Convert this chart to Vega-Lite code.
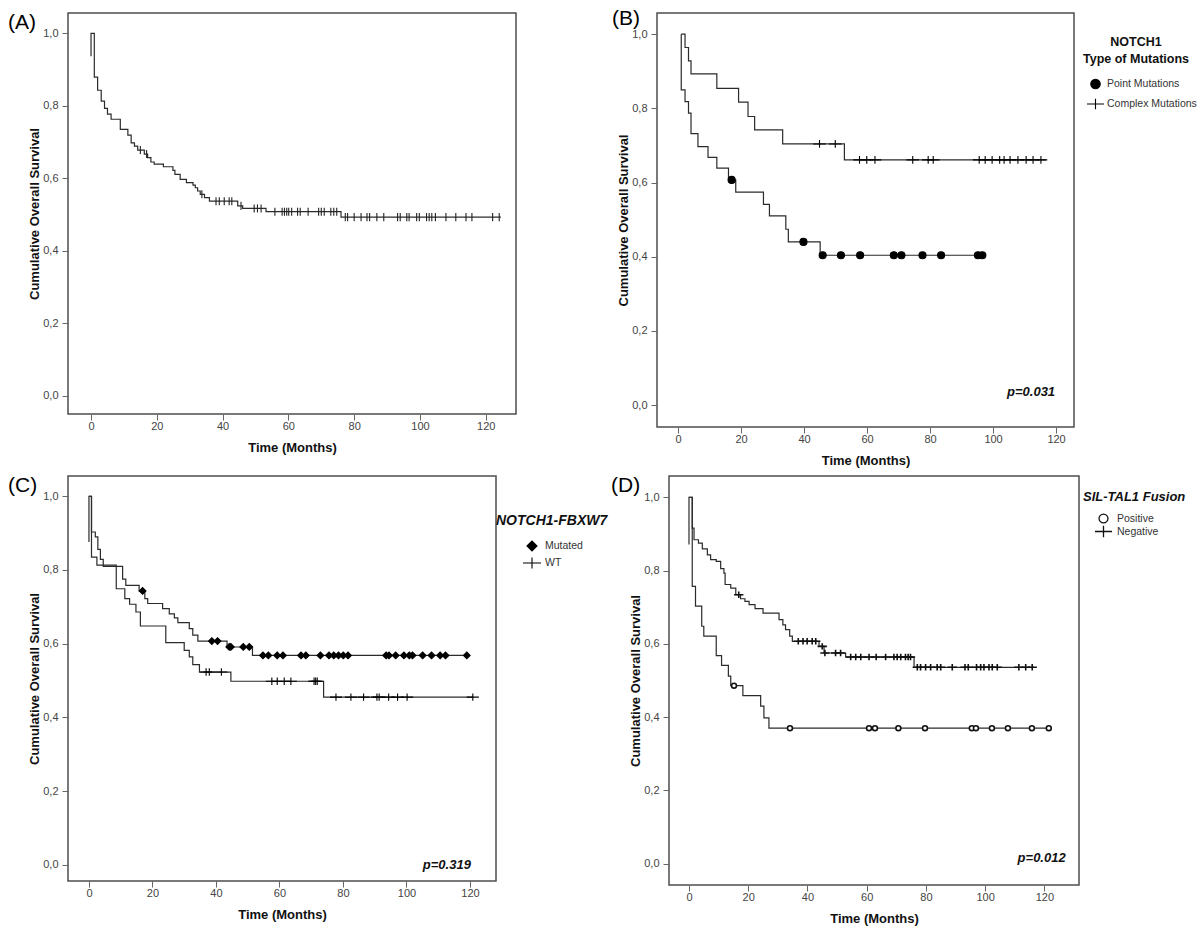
{
  "$schema": "https://vega.github.io/schema/vega-lite/v6.json",
  "padding": {"left": 7, "top": 7, "right": 0, "bottom": 0},
  "config": {
    "font": "Liberation Sans",
    "view": {"stroke": "#4d4d4d", "strokeWidth": 1.5},
    "axis": {"grid": false, "domain": false, "ticks": true, "tickColor": "#666", "tickSize": 6, "tickWidth": 1, "labelFontSize": 11, "labelColor": "#444", "labelFont": "Liberation Sans", "titleFont": "Liberation Sans", "titleFontSize": 13, "titleFontWeight": "bold", "titleColor": "#111"},
    "axisX": {"titlePadding": 10, "labelPadding": 0},
    "axisY": {"titlePadding": 1, "labelPadding": 4},
    "title": {"fontWeight": "normal", "fontSize": 21, "anchor": "start", "frame": "group", "color": "#000", "offset": 0, "font": "Liberation Sans"}
  },
  "resolve": {"scale": {"shape": "independent", "fill": "independent"}, "legend": {"shape": "independent", "fill": "independent"}},
  "datasets": {
    "aL": [{"t":0,"s":0.937},{"t":0,"s":1},{"t":1,"s":0.879},{"t":2,"s":0.843},{"t":3.1,"s":0.813},{"t":4.1,"s":0.793},{"t":5,"s":0.777},{"t":6.1,"s":0.763},{"t":8.9,"s":0.735},{"t":11.2,"s":0.719},{"t":12.2,"s":0.698},{"t":13.2,"s":0.689},{"t":14.2,"s":0.678},{"t":16.2,"s":0.667},{"t":17.2,"s":0.657},{"t":18.2,"s":0.645},{"t":19.2,"s":0.639},{"t":22,"s":0.632},{"t":24.9,"s":0.622},{"t":25.5,"s":0.611},{"t":27.1,"s":0.597},{"t":29,"s":0.588},{"t":31,"s":0.581},{"t":31.7,"s":0.574},{"t":32.4,"s":0.565},{"t":33.2,"s":0.556},{"t":34.5,"s":0.547},{"t":36,"s":0.537},{"t":44.6,"s":0.524},{"t":46.1,"s":0.517},{"t":53.2,"s":0.508},{"t":76,"s":0.493},{"t":124.6,"s":0.493}],
    "aC": [{"t":15,"s":0.678},{"t":16.9,"s":0.667},{"t":33.7,"s":0.556},{"t":38,"s":0.537},{"t":39,"s":0.537},{"t":40.5,"s":0.537},{"t":42,"s":0.537},{"t":42.8,"s":0.537},{"t":45.6,"s":0.524},{"t":49.6,"s":0.517},{"t":50.6,"s":0.517},{"t":51.7,"s":0.517},{"t":55.9,"s":0.508},{"t":58.1,"s":0.508},{"t":58.8,"s":0.508},{"t":59.5,"s":0.508},{"t":60.1,"s":0.508},{"t":61,"s":0.508},{"t":62.8,"s":0.508},{"t":63.6,"s":0.508},{"t":66,"s":0.508},{"t":69.2,"s":0.508},{"t":70,"s":0.508},{"t":70.9,"s":0.508},{"t":72.9,"s":0.508},{"t":73.8,"s":0.508},{"t":74.7,"s":0.508},{"t":77.3,"s":0.493},{"t":78,"s":0.493},{"t":80,"s":0.493},{"t":82.1,"s":0.493},{"t":83.9,"s":0.493},{"t":84.7,"s":0.493},{"t":86.9,"s":0.493},{"t":89,"s":0.493},{"t":93.2,"s":0.493},{"t":94,"s":0.493},{"t":96,"s":0.493},{"t":96.7,"s":0.493},{"t":99,"s":0.493},{"t":99.8,"s":0.493},{"t":102,"s":0.493},{"t":102.8,"s":0.493},{"t":103.6,"s":0.493},{"t":104.7,"s":0.493},{"t":107.9,"s":0.493},{"t":110.9,"s":0.493},{"t":114,"s":0.493},{"t":115.8,"s":0.493},{"t":122.1,"s":0.493},{"t":124.1,"s":0.493}],
    "bL": [{"g":"Complex Mutations","t":1,"s":1},{"g":"Complex Mutations","t":2.2,"s":0.964},{"g":"Complex Mutations","t":3.3,"s":0.928},{"g":"Complex Mutations","t":4.1,"s":0.893},{"g":"Complex Mutations","t":12.3,"s":0.854},{"g":"Complex Mutations","t":19.2,"s":0.817},{"g":"Complex Mutations","t":22.2,"s":0.778},{"g":"Complex Mutations","t":24.3,"s":0.742},{"g":"Complex Mutations","t":33.2,"s":0.704},{"g":"Complex Mutations","t":52.8,"s":0.661},{"g":"Complex Mutations","t":116.8,"s":0.661},
      {"g":"Point Mutations","t":1,"s":1},{"g":"Point Mutations","t":1,"s":0.85},{"g":"Point Mutations","t":2.2,"s":0.818},{"g":"Point Mutations","t":3.3,"s":0.787},{"g":"Point Mutations","t":4.1,"s":0.732},{"g":"Point Mutations","t":6.3,"s":0.697},{"g":"Point Mutations","t":9.5,"s":0.668},{"g":"Point Mutations","t":12.3,"s":0.639},{"g":"Point Mutations","t":16,"s":0.607},{"g":"Point Mutations","t":18.3,"s":0.574},{"g":"Point Mutations","t":27.1,"s":0.541},{"g":"Point Mutations","t":29,"s":0.51},{"g":"Point Mutations","t":34.2,"s":0.474},{"g":"Point Mutations","t":35,"s":0.44},{"g":"Point Mutations","t":45.1,"s":0.404},{"g":"Point Mutations","t":97.1,"s":0.404}],
    "bC": [{"g":"Point Mutations","t":17,"s":0.607},{"g":"Point Mutations","t":39.8,"s":0.44},{"g":"Point Mutations","t":45.9,"s":0.404},{"g":"Point Mutations","t":51.7,"s":0.404},{"g":"Point Mutations","t":57.8,"s":0.404},{"g":"Point Mutations","t":68.5,"s":0.404},{"g":"Point Mutations","t":70.9,"s":0.404},{"g":"Point Mutations","t":77.6,"s":0.404},{"g":"Point Mutations","t":83.5,"s":0.404},{"g":"Point Mutations","t":95.2,"s":0.404},{"g":"Point Mutations","t":96.6,"s":0.404},
      {"g":"Complex Mutations","t":44.9,"s":0.704},{"g":"Complex Mutations","t":49.9,"s":0.704},{"g":"Complex Mutations","t":57.6,"s":0.661},{"g":"Complex Mutations","t":59.9,"s":0.661},{"g":"Complex Mutations","t":62.5,"s":0.661},{"g":"Complex Mutations","t":74.5,"s":0.661},{"g":"Complex Mutations","t":79.4,"s":0.661},{"g":"Complex Mutations","t":81,"s":0.661},{"g":"Complex Mutations","t":95.6,"s":0.661},{"g":"Complex Mutations","t":97.5,"s":0.661},{"g":"Complex Mutations","t":99.7,"s":0.661},{"g":"Complex Mutations","t":102.1,"s":0.661},{"g":"Complex Mutations","t":103.5,"s":0.661},{"g":"Complex Mutations","t":105.4,"s":0.661},{"g":"Complex Mutations","t":107.9,"s":0.661},{"g":"Complex Mutations","t":110.5,"s":0.661},{"g":"Complex Mutations","t":112.7,"s":0.661},{"g":"Complex Mutations","t":115.2,"s":0.661}],
    "cL": [{"g":"Mutated","t":0,"s":1},{"g":"Mutated","t":0.8,"s":0.903},{"g":"Mutated","t":2,"s":0.89},{"g":"Mutated","t":2.8,"s":0.856},{"g":"Mutated","t":3.6,"s":0.829},{"g":"Mutated","t":4.5,"s":0.81},{"g":"Mutated","t":10.6,"s":0.775},{"g":"Mutated","t":11.6,"s":0.758},{"g":"Mutated","t":15.8,"s":0.743},{"g":"Mutated","t":17.6,"s":0.722},{"g":"Mutated","t":18.5,"s":0.709},{"g":"Mutated","t":23.2,"s":0.695},{"g":"Mutated","t":25.3,"s":0.681},{"g":"Mutated","t":26.9,"s":0.67},{"g":"Mutated","t":28,"s":0.657},{"g":"Mutated","t":31.6,"s":0.641},{"g":"Mutated","t":32.7,"s":0.623},{"g":"Mutated","t":34.3,"s":0.607},{"g":"Mutated","t":43.5,"s":0.591},{"g":"Mutated","t":51.5,"s":0.568},{"g":"Mutated","t":119,"s":0.568},
      {"g":"WT","t":0,"s":0.876},{"g":"WT","t":0,"s":1},{"g":"WT","t":0.8,"s":0.835},{"g":"WT","t":2.5,"s":0.813},{"g":"WT","t":8.6,"s":0.749},{"g":"WT","t":11.3,"s":0.722},{"g":"WT","t":12.8,"s":0.707},{"g":"WT","t":14.8,"s":0.686},{"g":"WT","t":16.2,"s":0.648},{"g":"WT","t":24.2,"s":0.603},{"g":"WT","t":30,"s":0.582},{"g":"WT","t":31.6,"s":0.564},{"g":"WT","t":32.7,"s":0.543},{"g":"WT","t":34.8,"s":0.523},{"g":"WT","t":44.7,"s":0.498},{"g":"WT","t":73.9,"s":0.455},{"g":"WT","t":121,"s":0.455}],
    "cC": [{"g":"Mutated","t":16.9,"s":0.743},{"g":"Mutated","t":38.7,"s":0.607},{"g":"Mutated","t":40.5,"s":0.607},{"g":"Mutated","t":44.2,"s":0.591},{"g":"Mutated","t":44.7,"s":0.591},{"g":"Mutated","t":48.6,"s":0.591},{"g":"Mutated","t":50.5,"s":0.591},{"g":"Mutated","t":54.8,"s":0.568},{"g":"Mutated","t":56.5,"s":0.568},{"g":"Mutated","t":59.3,"s":0.568},{"g":"Mutated","t":61.1,"s":0.568},{"g":"Mutated","t":66.8,"s":0.568},{"g":"Mutated","t":68.3,"s":0.568},{"g":"Mutated","t":72.9,"s":0.568},{"g":"Mutated","t":75.6,"s":0.568},{"g":"Mutated","t":77.1,"s":0.568},{"g":"Mutated","t":78.6,"s":0.568},{"g":"Mutated","t":80.1,"s":0.568},{"g":"Mutated","t":81.6,"s":0.568},{"g":"Mutated","t":93.6,"s":0.568},{"g":"Mutated","t":94.5,"s":0.568},{"g":"Mutated","t":96.6,"s":0.568},{"g":"Mutated","t":99.2,"s":0.568},{"g":"Mutated","t":100.9,"s":0.568},{"g":"Mutated","t":101.9,"s":0.568},{"g":"Mutated","t":105.1,"s":0.568},{"g":"Mutated","t":107.9,"s":0.568},{"g":"Mutated","t":110.6,"s":0.568},{"g":"Mutated","t":112.3,"s":0.568},{"g":"Mutated","t":119,"s":0.568},
      {"g":"WT","t":36.9,"s":0.523},{"g":"WT","t":37.9,"s":0.523},{"g":"WT","t":41.7,"s":0.523},{"g":"WT","t":57.6,"s":0.498},{"g":"WT","t":59.3,"s":0.498},{"g":"WT","t":61.5,"s":0.498},{"g":"WT","t":63.6,"s":0.498},{"g":"WT","t":70.9,"s":0.498},{"g":"WT","t":71.4,"s":0.498},{"g":"WT","t":71.9,"s":0.498},{"g":"WT","t":77.8,"s":0.455},{"g":"WT","t":82.5,"s":0.455},{"g":"WT","t":86.5,"s":0.455},{"g":"WT","t":90.7,"s":0.455},{"g":"WT","t":91.4,"s":0.455},{"g":"WT","t":94.4,"s":0.455},{"g":"WT","t":97.2,"s":0.455},{"g":"WT","t":100.2,"s":0.455},{"g":"WT","t":120.9,"s":0.455}],
    "dL": [{"g":"Negative","t":0,"s":0.871},{"g":"Negative","t":0,"s":1},{"g":"Negative","t":1.1,"s":0.916},{"g":"Negative","t":1.7,"s":0.884},{"g":"Negative","t":3.2,"s":0.875},{"g":"Negative","t":4.5,"s":0.859},{"g":"Negative","t":6.2,"s":0.843},{"g":"Negative","t":7.3,"s":0.83},{"g":"Negative","t":9.2,"s":0.825},{"g":"Negative","t":10.7,"s":0.805},{"g":"Negative","t":11.8,"s":0.793},{"g":"Negative","t":12.2,"s":0.762},{"g":"Negative","t":14.1,"s":0.752},{"g":"Negative","t":15.8,"s":0.734},{"g":"Negative","t":17.4,"s":0.723},{"g":"Negative","t":18.9,"s":0.716},{"g":"Negative","t":20.3,"s":0.707},{"g":"Negative","t":22.3,"s":0.696},{"g":"Negative","t":25,"s":0.684},{"g":"Negative","t":30.4,"s":0.666},{"g":"Negative","t":31.7,"s":0.652},{"g":"Negative","t":32.6,"s":0.639},{"g":"Negative","t":34,"s":0.621},{"g":"Negative","t":34.9,"s":0.607},{"g":"Negative","t":43.9,"s":0.593},{"g":"Negative","t":45.6,"s":0.575},{"g":"Negative","t":52.9,"s":0.564},{"g":"Negative","t":76,"s":0.536},{"g":"Negative","t":116.5,"s":0.536},
      {"g":"Positive","t":0,"s":1},{"g":"Positive","t":1.1,"s":0.757},{"g":"Positive","t":2.2,"s":0.703},{"g":"Positive","t":4.3,"s":0.648},{"g":"Positive","t":5,"s":0.621},{"g":"Positive","t":9.2,"s":0.568},{"g":"Positive","t":11,"s":0.541},{"g":"Positive","t":13.3,"s":0.512},{"g":"Positive","t":14.1,"s":0.486},{"g":"Positive","t":18.2,"s":0.459},{"g":"Positive","t":24.2,"s":0.43},{"g":"Positive","t":25.3,"s":0.398},{"g":"Positive","t":27,"s":0.37},{"g":"Positive","t":121.9,"s":0.37}],
    "dC": [{"g":"Positive","t":15.2,"s":0.486},{"g":"Positive","t":34.1,"s":0.37},{"g":"Positive","t":60.8,"s":0.37},{"g":"Positive","t":62.8,"s":0.37},{"g":"Positive","t":70.7,"s":0.37},{"g":"Positive","t":79.7,"s":0.37},{"g":"Positive","t":95.5,"s":0.37},{"g":"Positive","t":96.9,"s":0.37},{"g":"Positive","t":102.3,"s":0.37},{"g":"Positive","t":107.7,"s":0.37},{"g":"Positive","t":115.8,"s":0.37},{"g":"Positive","t":121.5,"s":0.37},
      {"g":"Negative","t":16.8,"s":0.734},{"g":"Negative","t":36.9,"s":0.607},{"g":"Negative","t":38.5,"s":0.607},{"g":"Negative","t":39.9,"s":0.607},{"g":"Negative","t":41.6,"s":0.607},{"g":"Negative","t":42.8,"s":0.607},{"g":"Negative","t":45,"s":0.593},{"g":"Negative","t":45.9,"s":0.575},{"g":"Negative","t":49.5,"s":0.575},{"g":"Negative","t":51.2,"s":0.575},{"g":"Negative","t":54.6,"s":0.564},{"g":"Negative","t":56.3,"s":0.564},{"g":"Negative","t":58,"s":0.564},{"g":"Negative","t":60.8,"s":0.564},{"g":"Negative","t":63.2,"s":0.564},{"g":"Negative","t":66.4,"s":0.564},{"g":"Negative","t":69.2,"s":0.564},{"g":"Negative","t":70.3,"s":0.564},{"g":"Negative","t":71.5,"s":0.564},{"g":"Negative","t":73.1,"s":0.564},{"g":"Negative","t":74,"s":0.564},{"g":"Negative","t":74.8,"s":0.564},{"g":"Negative","t":77.1,"s":0.536},{"g":"Negative","t":78.2,"s":0.536},{"g":"Negative","t":79.9,"s":0.536},{"g":"Negative","t":81.6,"s":0.536},{"g":"Negative","t":83.8,"s":0.536},{"g":"Negative","t":85,"s":0.536},{"g":"Negative","t":88.9,"s":0.536},{"g":"Negative","t":93.2,"s":0.536},{"g":"Negative","t":94.3,"s":0.536},{"g":"Negative","t":97.1,"s":0.536},{"g":"Negative","t":98.5,"s":0.536},{"g":"Negative","t":99.6,"s":0.536},{"g":"Negative","t":101.3,"s":0.536},{"g":"Negative","t":102.4,"s":0.536},{"g":"Negative","t":104.1,"s":0.536},{"g":"Negative","t":111.4,"s":0.536},{"g":"Negative","t":113.7,"s":0.536},{"g":"Negative","t":115.9,"s":0.536}]
  },
  "spacing": 6,
  "vconcat": [
    {
      "spacing": 94,
      "resolve": {"scale": {"shape": "independent", "fill": "independent"}, "legend": {"shape": "independent", "fill": "independent"}},
      "hconcat": [
        {
          "width": 448, "height": 401,
          "title": {"text": "(A)", "dx": -60, "dy": 24},
          "layer": [
            {"data": {"name": "aL"}, "mark": {"type": "line", "interpolate": "step-after", "color": "#2b2b2b", "strokeWidth": 1.2},
              "encoding": {
                "x": {"field": "t", "type": "quantitative", "scale": {"domain": [-7, 129.2], "nice": false, "zero": false}, "axis": {"values": [0,20,40,60,80,100,120], "title": "Time (Months)"}},
                "y": {"field": "s", "type": "quantitative", "scale": {"domain": [-0.05, 1.056], "nice": false, "zero": false}, "axis": {"values": [0,0.2,0.4,0.6,0.8,1], "labelExpr": "replace(format(datum.value,'.1f'),'.',',')", "title": "Cumulative Overall Survival"}}
              }},
            {"data": {"name": "aC"}, "mark": {"type": "point", "shape": "M0,-1.2V1.2", "size": 45, "filled": false, "stroke": "#222", "strokeWidth": 1.1, "opacity": 1},
              "encoding": {
                "x": {"field": "t", "type": "quantitative", "scale": {"domain": [-7, 129.2], "nice": false, "zero": false}},
                "y": {"field": "s", "type": "quantitative", "scale": {"domain": [-0.05, 1.056], "nice": false, "zero": false}}
              }}
          ]
        },
        {
          "width": 417, "height": 414,
          "title": {"text": "(B)", "dx": -45, "dy": 20},
          "layer": [
            {"data": {"name": "bL"}, "mark": {"type": "line", "interpolate": "step-after", "color": "#2b2b2b", "strokeWidth": 1.2},
              "encoding": {
                "x": {"field": "t", "type": "quantitative", "scale": {"domain": [-6.7, 125.7], "nice": false, "zero": false}, "axis": {"values": [0,20,40,60,80,100,120], "title": "Time (Months)"}},
                "y": {"field": "s", "type": "quantitative", "scale": {"domain": [-0.059, 1.057], "nice": false, "zero": false}, "axis": {"values": [0,0.2,0.4,0.6,0.8,1], "labelExpr": "replace(format(datum.value,'.1f'),'.',',')", "title": "Cumulative Overall Survival"}},
                "detail": {"field": "g"}
              }},
            {"data": {"name": "bC"}, "mark": {"type": "point", "size": 50, "filled": true, "fill": "#000", "stroke": "#000", "strokeWidth": 1.1, "opacity": 1},
              "encoding": {
                "x": {"field": "t", "type": "quantitative", "scale": {"domain": [-6.7, 125.7], "nice": false, "zero": false}},
                "y": {"field": "s", "type": "quantitative", "scale": {"domain": [-0.059, 1.057], "nice": false, "zero": false}},
                "shape": {"field": "g", "type": "nominal", "scale": {"domain": ["Point Mutations", "Complex Mutations"], "range": ["circle", "M-1.8,0H1.8M0,-1.1V1.1"]},
                  "legend": {"title": ["NOTCH1", "Type of Mutations"], "orient": "none", "legendX": 419, "legendY": 23, "titleFontSize": 12.5, "titleFontWeight": "bold", "titleColor": "#111", "titleAlign": "center", "titleAnchor": "middle", "titleLineHeight": 17, "titlePadding": 13, "labelFontSize": 10.5, "labelColor": "#333", "symbolOffset": 14, "labelOffset": 6, "rowPadding": 5, "symbolSize": 90, "symbolStrokeWidth": 1.1}}
              }},
            {"data": {"values": [{}]}, "mark": {"type": "text", "align": "right", "baseline": "middle", "fontSize": 13, "fontWeight": "bold", "fontStyle": "italic", "color": "#111"},
              "encoding": {
                "x": {"datum": 119.7, "type": "quantitative", "scale": {"domain": [-6.7, 125.7], "nice": false, "zero": false}},
                "y": {"datum": 0.035, "type": "quantitative", "scale": {"domain": [-0.059, 1.057], "nice": false, "zero": false}},
                "text": {"value": "p=0.031"}
              }}
          ]
        }
      ]
    },
    {
      "spacing": 1,
      "resolve": {"scale": {"shape": "independent", "fill": "independent"}, "legend": {"shape": "independent", "fill": "independent"}},
      "hconcat": [
        {
          "width": 428, "height": 405,
          "title": {"text": "(C)", "dx": -60, "dy": 24},
          "layer": [
            {"data": {"name": "cL"}, "mark": {"type": "line", "interpolate": "step-after", "color": "#2b2b2b", "strokeWidth": 1.2},
              "encoding": {
                "x": {"field": "t", "type": "quantitative", "scale": {"domain": [-6.6, 128.2], "nice": false, "zero": false}, "axis": {"values": [0,20,40,60,80,100,120], "title": "Time (Months)"}},
                "y": {"field": "s", "type": "quantitative", "scale": {"domain": [-0.044, 1.055], "nice": false, "zero": false}, "axis": {"values": [0,0.2,0.4,0.6,0.8,1], "labelExpr": "replace(format(datum.value,'.1f'),'.',',')", "title": "Cumulative Overall Survival"}},
                "detail": {"field": "g"}
              }},
            {"data": {"name": "cC"}, "mark": {"type": "point", "size": 45, "filled": true, "fill": "#000", "stroke": "#000", "strokeWidth": 1.1, "opacity": 1},
              "encoding": {
                "x": {"field": "t", "type": "quantitative", "scale": {"domain": [-6.6, 128.2], "nice": false, "zero": false}},
                "y": {"field": "s", "type": "quantitative", "scale": {"domain": [-0.044, 1.055], "nice": false, "zero": false}},
                "shape": {"field": "g", "type": "nominal", "scale": {"domain": ["Mutated", "WT"], "range": ["diamond", "M-1.8,0H1.8M0,-1.1V1.1"]},
                  "legend": {"title": "NOTCH1-FBXW7", "orient": "none", "legendX": 428, "legendY": 38, "titleFontSize": 14, "titleFontWeight": "bold", "titleFontStyle": "italic", "titleColor": "#111", "titlePadding": 12, "labelFontSize": 10.5, "labelColor": "#333", "symbolOffset": 30, "labelOffset": 7, "rowPadding": 1, "symbolSize": 100, "symbolStrokeWidth": 1.1}}
              }},
            {"data": {"values": [{}]}, "mark": {"type": "text", "align": "right", "baseline": "middle", "fontSize": 13, "fontWeight": "bold", "fontStyle": "italic", "color": "#111"},
              "encoding": {
                "x": {"datum": 120.3, "type": "quantitative", "scale": {"domain": [-6.6, 128.2], "nice": false, "zero": false}},
                "y": {"datum": 0.0, "type": "quantitative", "scale": {"domain": [-0.044, 1.055], "nice": false, "zero": false}},
                "text": {"value": "p=0.319"}
              }}
          ]
        },
        {
          "width": 410, "height": 409,
          "title": {"text": "(D)", "dx": -58, "dy": 24},
          "layer": [
            {"data": {"name": "dL"}, "mark": {"type": "line", "interpolate": "step-after", "color": "#2b2b2b", "strokeWidth": 1.2},
              "encoding": {
                "x": {"field": "t", "type": "quantitative", "scale": {"domain": [-6.75, 131.7], "nice": false, "zero": false}, "axis": {"values": [0,20,40,60,80,100,120], "title": "Time (Months)"}},
                "y": {"field": "s", "type": "quantitative", "scale": {"domain": [-0.058, 1.058], "nice": false, "zero": false}, "axis": {"values": [0,0.2,0.4,0.6,0.8,1], "labelExpr": "replace(format(datum.value,'.1f'),'.',',')", "title": "Cumulative Overall Survival"}},
                "detail": {"field": "g"}
              }},
            {"data": {"name": "dC"}, "mark": {"type": "point", "size": 24, "filled": true, "stroke": "#111", "strokeWidth": 1.6, "opacity": 1},
              "encoding": {
                "x": {"field": "t", "type": "quantitative", "scale": {"domain": [-6.75, 131.7], "nice": false, "zero": false}},
                "y": {"field": "s", "type": "quantitative", "scale": {"domain": [-0.058, 1.058], "nice": false, "zero": false}},
                "fill": {"field": "g", "type": "nominal", "scale": {"domain": ["Positive", "Negative"], "range": ["#ffffff", "#000000"]}, "legend": null},
                "shape": {"field": "g", "type": "nominal", "scale": {"domain": ["Positive", "Negative"], "range": ["circle", "M-1.9,0H1.9M0,-1.3V1.3"]},
                  "legend": {"title": "SIL-TAL1 Fusion", "orient": "none", "legendX": 414, "legendY": 15, "titleFontSize": 13, "titleFontWeight": "bold", "titleFontStyle": "italic", "titleColor": "#111", "titlePadding": 9, "labelFontSize": 10.5, "labelColor": "#333", "symbolOffset": 15, "labelOffset": 8, "rowPadding": -5, "symbolSize": 80, "symbolStrokeWidth": 1.3}}
              }},
            {"data": {"values": [{}]}, "mark": {"type": "text", "align": "right", "baseline": "middle", "fontSize": 13, "fontWeight": "bold", "fontStyle": "italic", "color": "#111"},
              "encoding": {
                "x": {"datum": 127.2, "type": "quantitative", "scale": {"domain": [-6.75, 131.7], "nice": false, "zero": false}},
                "y": {"datum": 0.016, "type": "quantitative", "scale": {"domain": [-0.058, 1.058], "nice": false, "zero": false}},
                "text": {"value": "p=0.012"}
              }}
          ]
        }
      ]
    }
  ]
}
